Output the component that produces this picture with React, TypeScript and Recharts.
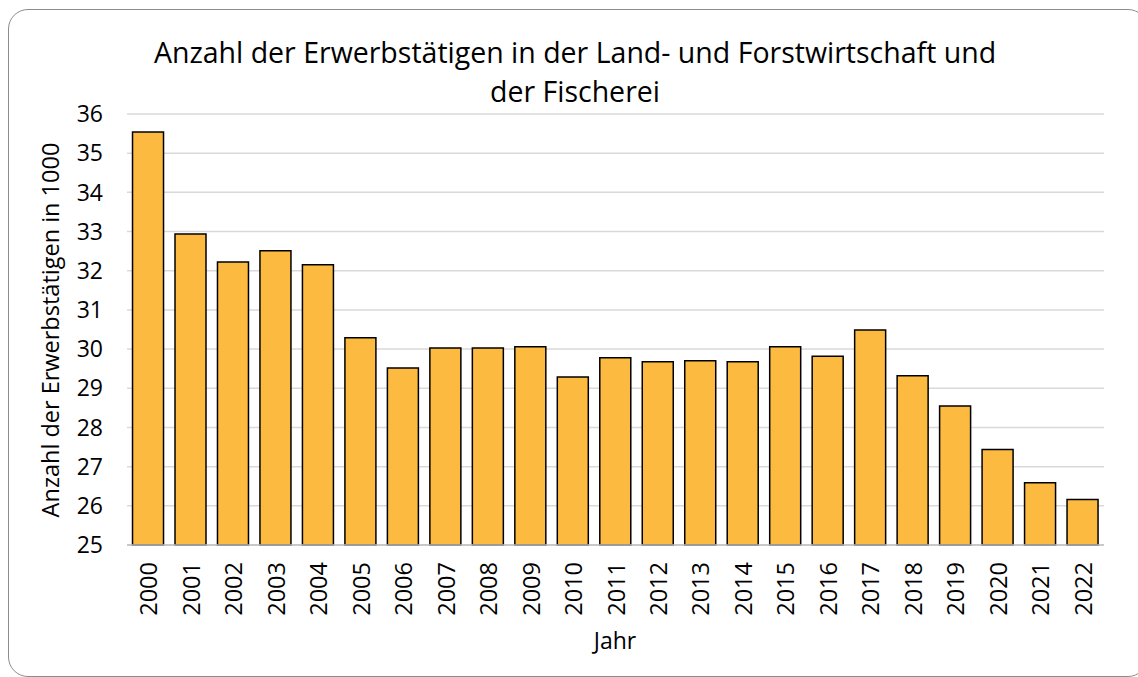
import React from "react";
import { BarChart, Bar, XAxis, YAxis, CartesianGrid } from "recharts";

const years = ["2000","2001","2002","2003","2004","2005","2006","2007","2008","2009","2010","2011","2012","2013","2014","2015","2016","2017","2018","2019","2020","2021","2022"];
const values = [35.54, 32.94, 32.22, 32.51, 32.15, 30.29, 29.52, 30.03, 30.03, 30.06, 29.29, 29.78, 29.68, 29.7, 29.68, 30.06, 29.82, 30.49, 29.32, 28.55, 27.44, 26.59, 26.16];
const yTicks = [25, 26, 27, 28, 29, 30, 31, 32, 33, 34, 35, 36];
const titleLines = ["Anzahl der Erwerbstätigen in der Land- und Forstwirtschaft und", "der Fischerei"];
const yLabel = "Anzahl der Erwerbstätigen in 1000";
const xLabel = "Jahr";

const data = years.map((y, i) => ({ year: y, value: values[i] }));
const FONT = "'Open Sans', sans-serif";

const XTick = (props: any) => {
  const { x, y, payload } = props;
  return (
    <text x={x} y={y} transform={`rotate(-90, ${x}, ${y})`} textAnchor="end" dominantBaseline="central" fontSize={23.5} fontFamily={FONT} fill="#000">
      {payload.value}
    </text>
  );
};

export default function App() {
  return (
    <div style={{ position: "absolute", left: 0, top: 0, width: 1138, height: 677, overflow: "hidden", background: "#fff" }}>
      <div style={{ position: "absolute", left: 8, top: 9, width: 1140, height: 668, border: "1.5px solid #8c8c8c", borderRadius: 20, boxSizing: "border-box" }} />
      <div style={{ position: "absolute", left: 0, top: 0 }}>
        <BarChart width={1138} height={677} data={data} margin={{ top: 114, right: 34, bottom: 42, left: 67 }} barCategoryGap="13%">
          <CartesianGrid vertical={false} stroke="#d9d9d9" strokeWidth={1.5} />
          <XAxis dataKey="year" height={90} tick={<XTick />} tickLine={false} axisLine={{ stroke: "#bfbfbf", strokeWidth: 1.5 }} tickMargin={11} interval={0} />
          <YAxis domain={[25, 36]} ticks={yTicks} width={60} tickLine={false} axisLine={false} tickMargin={18} tick={{ fontSize: 23, fontFamily: FONT, fill: "#000" }} interval={0} />
          <Bar dataKey="value" fill="#FDBA40" stroke="#000" strokeWidth={1.5} isAnimationActive={false} />
          <text x={575} y={63} textAnchor="middle" fontSize={28.5} fontFamily={FONT} fill="#000">{titleLines[0]}</text>
          <text x={575} y={102} textAnchor="middle" fontSize={28.5} fontFamily={FONT} fill="#000">{titleLines[1]}</text>
          <text x={50} y={330} transform="rotate(-90, 50, 330)" textAnchor="middle" dominantBaseline="central" fontSize={23.5} fontFamily={FONT} fill="#000">{yLabel}</text>
          <text x={615} y={640} textAnchor="middle" dominantBaseline="central" fontSize={23} fontFamily={FONT} fill="#000">{xLabel}</text>
        </BarChart>
      </div>
    </div>
  );
}
